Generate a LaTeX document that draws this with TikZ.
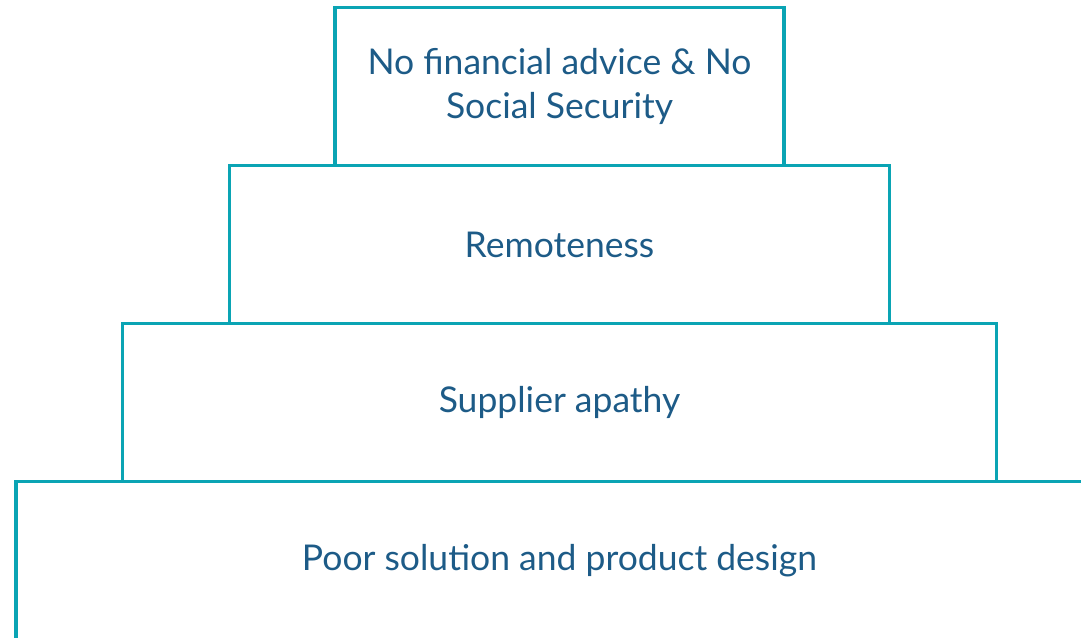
\documentclass[tikz,border=0pt]{standalone}
\usepackage{fontspec}
\setmainfont{Lato}
\usetikzlibrary{positioning}
\usepackage{xcolor}
\definecolor{tierline}{HTML}{0AA4B4}
\definecolor{tiertext}{HTML}{1D5B87}

\begin{document}
\begin{tikzpicture}[x=1pt, y=-1pt,
    tier/.style={draw=tierline, line width=3.8pt, rectangle, outer sep=0pt,
        minimum height=158pt, align=center, text=tiertext,
        font=\fontsize{35.5}{44}\selectfont}]
    \useasboundingbox (0,0) rectangle (1081,637);
    \clip (0,0) rectangle (1081,637);

    \node[tier, minimum width=449pt] (advice) at (559.5,86.5) {No financial advice \& No\\ Social Security};
    \node[tier, minimum width=660pt, below=0pt of advice] (remote) {Remoteness};
    \node[tier, minimum width=874pt, below=0pt of remote] (apathy) {Supplier apathy};
    \node[tier, minimum width=1087pt, below=0pt of apathy] (design) {Poor solution and product design};
\end{tikzpicture}
\end{document}
